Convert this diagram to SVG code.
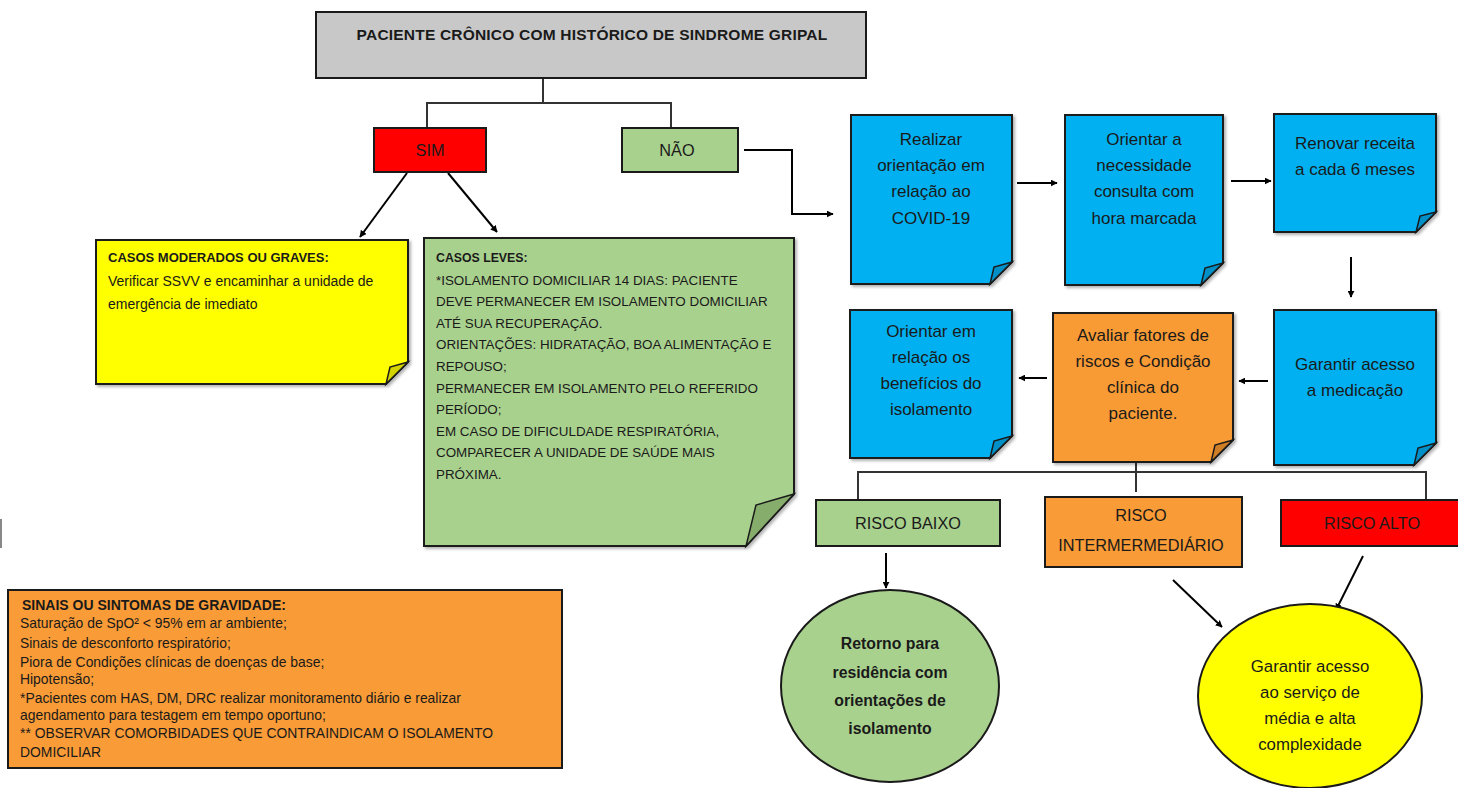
<svg xmlns="http://www.w3.org/2000/svg" width="1458" height="788" viewBox="0 0 1458 788">
<defs>
<marker id="arr" viewBox="0 0 10 10" refX="9" refY="5" markerWidth="7" markerHeight="7" markerUnits="userSpaceOnUse" orient="auto">
<path d="M0,0 L10,5 L0,10 Z" fill="#000"/>
</marker>
<filter id="sh" x="-5%" y="-5%" width="115%" height="115%">
<feDropShadow dx="2" dy="2" stdDeviation="1.5" flood-color="#000" flood-opacity="0.3"/>
</filter>
</defs>
<style>
.box{stroke:#1a1a1a;stroke-width:2}
.note{stroke:#1a1a1a;stroke-width:2;filter:url(#sh)}
.fold{stroke:#1a1a1a;stroke-width:1.5}
.t{font-family:"Liberation Sans",Arial,sans-serif;fill:#1a1a1a}
.c{text-anchor:middle;font-size:16.3px}
.n{text-anchor:middle;font-size:17px}
.b{font-weight:bold}
.con{stroke:#000;stroke-width:2;fill:none}
.tree{stroke:#333;stroke-width:2;fill:none}
</style>
<rect width="1458" height="788" fill="#fff"/>
<line x1="1" y1="519" x2="1" y2="548" stroke="#888" stroke-width="2"/>

<g id="connectors">
<path class="tree" d="M543,78 V103 M427,128 V103 H671 V128"/>
<path class="con" d="M744,150 H792 V214 H833" marker-end="url(#arr)"/>
<path class="con" d="M407,173 L360,237" marker-end="url(#arr)"/>
<path class="con" d="M448,173 L497,232" marker-end="url(#arr)"/>
<path class="con" d="M1017,183 H1057" marker-end="url(#arr)"/>
<path class="con" d="M1231,181 H1271" marker-end="url(#arr)"/>
<path class="con" d="M1351,257 V297" marker-end="url(#arr)"/>
<path class="con" d="M1268,381 H1239" marker-end="url(#arr)"/>
<path class="con" d="M1047,378 H1019" marker-end="url(#arr)"/>
<path class="tree" d="M1136,462 V492 M858,500 V472 H1426 V500"/>
<path class="con" d="M886,553 V588" marker-end="url(#arr)"/>
<path class="con" d="M1173,580 L1222,627" marker-end="url(#arr)"/>
<path class="con" d="M1363,556 L1336,610" marker-end="url(#arr)"/>
</g>

<g id="title">
<rect class="box" x="316" y="12" width="550" height="66" fill="#C8C8C8"/>
<text class="t b" x="592" y="40" text-anchor="middle" font-size="15.5" letter-spacing="0.2">PACIENTE CRÔNICO COM HISTÓRICO DE SINDROME GRIPAL</text>
</g>

<g id="sim">
<rect class="box" x="374" y="128" width="112" height="44" fill="#FF0000"/>
<text class="t c" x="430" y="156">SIM</text>
</g>

<g id="nao">
<rect class="box" x="622" y="128" width="116" height="44" fill="#A9D18E"/>
<text class="t c" x="677" y="156">NÃO</text>
</g>

<g id="casos-graves">
<path class="note" d="M96,240 H408 V362 L386,384 H96 Z" fill="#FFFF00"/>
<path class="fold" d="M408,362 L390,367 L386,384 Z" fill="#D4D400"/>
<text class="t" font-size="14"><tspan class="b" font-size="13" x="108" y="262">CASOS MODERADOS OU GRAVES:</tspan><tspan x="108" y="286">Verificar SSVV e encaminhar a unidade de</tspan><tspan x="108" y="309">emergência de imediato</tspan></text>
</g>

<g id="casos-leves">
<path class="note" d="M424,238 H794 V494 L746,546 H424 Z" fill="#A9D18E"/>
<path class="fold" d="M794,494 L756,505 L746,546 Z" fill="#86AD6C"/>
<text class="t" font-size="13.4"><tspan class="b" font-size="12.3" x="436" y="262">CASOS LEVES:</tspan><tspan x="436" y="285">*ISOLAMENTO DOMICILIAR 14 DIAS: PACIENTE</tspan><tspan x="436" y="306">DEVE PERMANECER EM ISOLAMENTO DOMICILIAR</tspan><tspan x="436" y="328">ATÉ SUA RECUPERAÇÃO.</tspan><tspan x="436" y="349">ORIENTAÇÕES: HIDRATAÇÃO, BOA ALIMENTAÇÃO E</tspan><tspan x="436" y="371">REPOUSO;</tspan><tspan x="436" y="393">PERMANECER EM ISOLAMENTO PELO REFERIDO</tspan><tspan x="436" y="414">PERÍODO;</tspan><tspan x="436" y="436">EM CASO DE DIFICULDADE RESPIRATÓRIA,</tspan><tspan x="436" y="457">COMPARECER A UNIDADE DE SAÚDE MAIS</tspan><tspan x="436" y="479">PRÓXIMA.</tspan></text>
</g>

<g id="sinais">
<rect class="box" x="8" y="590" width="554" height="178" fill="#F99B36"/>
<text class="t" font-size="13.9"><tspan class="b" font-size="14" x="22" y="610">SINAIS OU SINTOMAS DE GRAVIDADE:</tspan><tspan x="20" y="628">Saturação de SpO² &lt; 95% em ar ambiente;</tspan><tspan x="20" y="648">Sinais de desconforto respiratório;</tspan><tspan x="20" y="667">Piora de Condições clínicas de doenças de base;</tspan><tspan x="20" y="684">Hipotensão;</tspan><tspan x="20" y="703">*Pacientes com HAS, DM, DRC realizar monitoramento diário e realizar</tspan><tspan x="20" y="720">agendamento para testagem em tempo oportuno;</tspan><tspan x="20" y="738">** OBSERVAR COMORBIDADES QUE CONTRAINDICAM O ISOLAMENTO</tspan><tspan x="20" y="757">DOMICILIAR</tspan></text>
</g>

<g id="realizar">
<path class="note" d="M851,115 H1012 V262 L990,284 H851 Z" fill="#00B0F0"/>
<path class="fold" d="M1012,262 L994,267 L990,284 Z" fill="#0090C8"/>
<text class="t n"><tspan x="931" y="145">Realizar</tspan><tspan x="931" y="171">orientação em</tspan><tspan x="931" y="197">relação ao</tspan><tspan x="931" y="224">COVID-19</tspan></text>
</g>

<g id="orientar-consulta">
<path class="note" d="M1065,115 H1223 V263 L1201,285 H1065 Z" fill="#00B0F0"/>
<path class="fold" d="M1223,263 L1205,268 L1201,285 Z" fill="#0090C8"/>
<text class="t n"><tspan x="1144" y="145">Orientar a</tspan><tspan x="1144" y="171">necessidade</tspan><tspan x="1144" y="197">consulta com</tspan><tspan x="1144" y="224">hora marcada</tspan></text>
</g>

<g id="renovar">
<path class="note" d="M1274,114 H1436 V212 L1416,232 H1274 Z" fill="#00B0F0"/>
<path class="fold" d="M1436,212 L1420,216 L1416,232 Z" fill="#0090C8"/>
<text class="t n"><tspan x="1355" y="149">Renovar receita</tspan><tspan x="1355" y="175">a cada 6 meses</tspan></text>
</g>

<g id="garantir-medicacao">
<path class="note" d="M1274,310 H1436 V443 L1414,465 H1274 Z" fill="#00B0F0"/>
<path class="fold" d="M1436,443 L1418,448 L1414,465 Z" fill="#0090C8"/>
<text class="t n"><tspan x="1355" y="370">Garantir acesso</tspan><tspan x="1355" y="396">a medicação</tspan></text>
</g>

<g id="avaliar">
<path class="note" d="M1053,313 H1233 V440 L1211,462 H1053 Z" fill="#F99B36"/>
<path class="fold" d="M1233,440 L1215,445 L1211,462 Z" fill="#D07E26"/>
<text class="t n"><tspan x="1143" y="341">Avaliar fatores de</tspan><tspan x="1143" y="367">riscos e Condição</tspan><tspan x="1143" y="393">clínica do</tspan><tspan x="1143" y="419">paciente.</tspan></text>
</g>

<g id="orientar-isolamento">
<path class="note" d="M850,310 H1012 V436 L990,458 H850 Z" fill="#00B0F0"/>
<path class="fold" d="M1012,436 L994,441 L990,458 Z" fill="#0090C8"/>
<text class="t n"><tspan x="931" y="337">Orientar em</tspan><tspan x="931" y="363">relação os</tspan><tspan x="931" y="389">benefícios do</tspan><tspan x="931" y="415">isolamento</tspan></text>
</g>

<g id="risco-baixo">
<rect class="box" x="816" y="500" width="184" height="46" fill="#A9D18E"/>
<text class="t c" x="908" y="529">RISCO BAIXO</text>
</g>

<g id="risco-intermediario">
<rect class="box" x="1045" y="497" width="197" height="70" fill="#F99B36"/>
<text class="t c"><tspan x="1141" y="521">RISCO</tspan><tspan x="1141" y="551">INTERMERMEDIÁRIO</tspan></text>
</g>

<g id="risco-alto">
<rect class="box" x="1281" y="500" width="180" height="46" fill="#FF0000"/>
<text class="t c" x="1372" y="529">RISCO ALTO</text>
</g>

<g id="retorno">
<ellipse class="box" cx="890" cy="686" rx="109" ry="96" fill="#A9D18E"/>
<text class="t b" text-anchor="middle" font-size="15.8"><tspan x="890" y="649">Retorno para</tspan><tspan x="890" y="678">residência com</tspan><tspan x="890" y="706">orientações de</tspan><tspan x="890" y="734">isolamento</tspan></text>
</g>

<g id="garantir-servico">
<ellipse class="box" cx="1310" cy="696" rx="112" ry="92" fill="#FFFF00"/>
<text class="t" text-anchor="middle" font-size="16.8"><tspan x="1310" y="672">Garantir acesso</tspan><tspan x="1310" y="698">ao serviço de</tspan><tspan x="1310" y="724">média e alta</tspan><tspan x="1310" y="750">complexidade</tspan></text>
</g>
</svg>
